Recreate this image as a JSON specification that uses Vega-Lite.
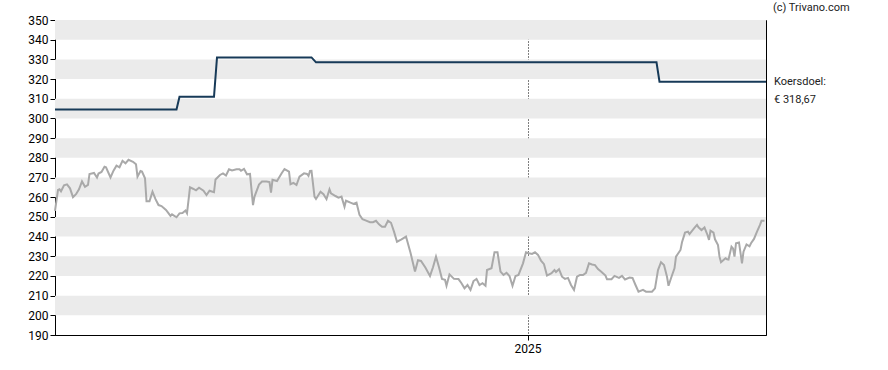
{
  "$schema": "https://vega.github.io/schema/vega-lite/v6.json",
  "width": 711,
  "height": 315,
  "autosize": {"type": "none"},
  "padding": {"left": 55, "top": 20, "right": 122, "bottom": 35},
  "background": "white",
  "config": {
    "view": {"stroke": "#000", "strokeWidth": 1},
    "font": "Roboto",
    "axis": {"labelFont": "Roboto", "labelFontSize": 12, "labelColor": "#000", "domainColor": "#000", "tickColor": "#000", "tickSize": 5},
    "axisY": {"grid": false, "labelPadding": 2},
    "axisX": {"grid": true, "gridColor": "#000", "gridDash": [1, 2], "gridWidth": 1, "gridOpacity": 1, "labelPadding": 3, "labelFlush": false}
  },
  "layer": [
    {
      "data": {"values": [
        {"lo": 340, "hi": 350}, {"lo": 320, "hi": 330}, {"lo": 300, "hi": 310}, {"lo": 280, "hi": 290},
        {"lo": 260, "hi": 270}, {"lo": 240, "hi": 250}, {"lo": 220, "hi": 230}, {"lo": 200, "hi": 210}
      ]},
      "mark": {"type": "rect", "fill": "#ebebeb"},
      "encoding": {
        "y": {"field": "lo", "type": "quantitative", "title": null, "scale": {"domain": [190, 350], "nice": false, "zero": false},
          "axis": {"values": [190,200,210,220,230,240,250,260,270,280,290,300,310,320,330,340,350]}},
        "y2": {"field": "hi"}
      }
    },
    {
      "data": {"values": [
        {"d": "2024-02-21", "v": 304.5}, {"d": "2024-05-12", "v": 304.5},
        {"d": "2024-05-14", "v": 311}, {"d": "2024-06-06", "v": 311},
        {"d": "2024-06-08", "v": 331}, {"d": "2024-08-10", "v": 331},
        {"d": "2024-08-13", "v": 328.5}, {"d": "2025-03-28", "v": 328.5},
        {"d": "2025-03-30", "v": 318.67}, {"d": "2025-06-09", "v": 318.67}
      ]},
      "mark": {"type": "line", "color": "#173a58", "strokeWidth": 2},
      "encoding": {
        "x": {"field": "d", "type": "temporal", "title": null,
          "scale": {"type": "utc", "domain": [{"year": 2024, "month": 2, "date": 21, "utc": true}, {"year": 2025, "month": 6, "date": 9, "utc": true}]},
          "axis": {"values": [{"year": 2025, "month": 1, "date": 1, "utc": true}], "labelExpr": "utcFormat(datum.value, '%Y')"}},
        "y": {"field": "v", "type": "quantitative", "title": null,
          "axis": {"values": [190,200,210,220,230,240,250,260,270,280,290,300,310,320,330,340,350]}}
      }
    },
    {
      "data": {"values": [
        {"d":"2024-02-21","v":253},{"d":"2024-02-23","v":263.7},{"d":"2024-02-24","v":264},{"d":"2024-02-25","v":263},
        {"d":"2024-02-27","v":266},{"d":"2024-02-29","v":266.5},{"d":"2024-03-02","v":264.5},{"d":"2024-03-04","v":260},
        {"d":"2024-03-06","v":261.5},{"d":"2024-03-08","v":264},{"d":"2024-03-10","v":268},{"d":"2024-03-12","v":265.3},
        {"d":"2024-03-14","v":266.2},{"d":"2024-03-15","v":271.8},{"d":"2024-03-18","v":272.3},{"d":"2024-03-20","v":270},
        {"d":"2024-03-21","v":272},{"d":"2024-03-23","v":272.8},{"d":"2024-03-25","v":275.5},{"d":"2024-03-26","v":275.2},
        {"d":"2024-03-29","v":270},{"d":"2024-03-31","v":273.5},{"d":"2024-04-02","v":276},{"d":"2024-04-04","v":275.2},
        {"d":"2024-04-06","v":278.5},{"d":"2024-04-08","v":277.2},{"d":"2024-04-10","v":279},{"d":"2024-04-13","v":278},
        {"d":"2024-04-15","v":276.7},{"d":"2024-04-16","v":270.4},{"d":"2024-04-18","v":273.3},{"d":"2024-04-19","v":273},
        {"d":"2024-04-21","v":269.6},{"d":"2024-04-22","v":258},{"d":"2024-04-24","v":258},{"d":"2024-04-26","v":262.8},
        {"d":"2024-04-28","v":259},{"d":"2024-04-30","v":256},{"d":"2024-05-02","v":255.5},{"d":"2024-05-05","v":253.5},
        {"d":"2024-05-08","v":250.5},{"d":"2024-05-09","v":251.3},{"d":"2024-05-12","v":249.8},{"d":"2024-05-14","v":251.8},
        {"d":"2024-05-16","v":252},{"d":"2024-05-18","v":253.2},{"d":"2024-05-19","v":251.8},{"d":"2024-05-21","v":265},
        {"d":"2024-05-23","v":264.3},{"d":"2024-05-25","v":263.5},{"d":"2024-05-27","v":264.8},{"d":"2024-05-30","v":263.3},
        {"d":"2024-06-01","v":261.1},{"d":"2024-06-03","v":263.3},{"d":"2024-06-06","v":262.5},{"d":"2024-06-07","v":269},
        {"d":"2024-06-10","v":271.3},{"d":"2024-06-12","v":272.1},{"d":"2024-06-14","v":271},{"d":"2024-06-16","v":274.2},
        {"d":"2024-06-18","v":273.6},{"d":"2024-06-21","v":274.2},{"d":"2024-06-23","v":274.2},{"d":"2024-06-24","v":273.4},
        {"d":"2024-06-26","v":274.4},{"d":"2024-06-28","v":271.6},{"d":"2024-06-30","v":271.8},{"d":"2024-07-02","v":256},
        {"d":"2024-07-03","v":260.3},{"d":"2024-07-06","v":266.4},{"d":"2024-07-08","v":268},{"d":"2024-07-11","v":268},
        {"d":"2024-07-13","v":267.7},{"d":"2024-07-14","v":262.3},{"d":"2024-07-15","v":268.8},{"d":"2024-07-18","v":268.2},
        {"d":"2024-07-21","v":272},{"d":"2024-07-23","v":274.3},{"d":"2024-07-26","v":273},{"d":"2024-07-27","v":266.6},
        {"d":"2024-07-29","v":267.3},{"d":"2024-07-31","v":266.2},{"d":"2024-08-02","v":270.4},{"d":"2024-08-05","v":272.1},
        {"d":"2024-08-07","v":271.8},{"d":"2024-08-08","v":270.8},{"d":"2024-08-09","v":273.3},{"d":"2024-08-10","v":273.4},
        {"d":"2024-08-12","v":260.3},{"d":"2024-08-13","v":259.1},{"d":"2024-08-16","v":262.8},{"d":"2024-08-18","v":261.5},
        {"d":"2024-08-20","v":259},{"d":"2024-08-22","v":264},{"d":"2024-08-23","v":262},{"d":"2024-08-26","v":260.6},
        {"d":"2024-08-28","v":259.8},{"d":"2024-08-30","v":260.3},{"d":"2024-09-01","v":255.2},{"d":"2024-09-02","v":258.2},
        {"d":"2024-09-05","v":257.2},{"d":"2024-09-07","v":256.6},{"d":"2024-09-09","v":257.2},{"d":"2024-09-11","v":251},
        {"d":"2024-09-13","v":248.8},{"d":"2024-09-15","v":248.2},{"d":"2024-09-18","v":247.3},{"d":"2024-09-20","v":247.3},
        {"d":"2024-09-22","v":248},{"d":"2024-09-24","v":246.2},{"d":"2024-09-26","v":245},{"d":"2024-09-28","v":245},
        {"d":"2024-09-30","v":248},{"d":"2024-10-02","v":247},{"d":"2024-10-04","v":242.5},{"d":"2024-10-06","v":237.4},
        {"d":"2024-10-09","v":238.6},{"d":"2024-10-12","v":240},{"d":"2024-10-15","v":231.8},{"d":"2024-10-18","v":222.2},
        {"d":"2024-10-20","v":228},{"d":"2024-10-22","v":227.6},{"d":"2024-10-25","v":224.2},{"d":"2024-10-28","v":220},
        {"d":"2024-10-30","v":224.4},{"d":"2024-11-01","v":229.8},{"d":"2024-11-03","v":224.4},{"d":"2024-11-05","v":218.5},
        {"d":"2024-11-07","v":218},{"d":"2024-11-08","v":215},{"d":"2024-11-10","v":220.8},{"d":"2024-11-13","v":218.5},
        {"d":"2024-11-16","v":218.4},{"d":"2024-11-18","v":216.3},{"d":"2024-11-20","v":213.7},{"d":"2024-11-22","v":215.4},
        {"d":"2024-11-24","v":212.9},{"d":"2024-11-26","v":217.4},{"d":"2024-11-28","v":218.5},{"d":"2024-11-30","v":215.4},
        {"d":"2024-12-02","v":216.3},{"d":"2024-12-04","v":215},{"d":"2024-12-05","v":223},{"d":"2024-12-08","v":223.9},
        {"d":"2024-12-10","v":232},{"d":"2024-12-12","v":232},{"d":"2024-12-14","v":222.2},{"d":"2024-12-16","v":220.5},
        {"d":"2024-12-18","v":221.6},{"d":"2024-12-20","v":220},{"d":"2024-12-22","v":215},{"d":"2024-12-24","v":220},
        {"d":"2024-12-26","v":220.5},{"d":"2024-12-29","v":226.4},{"d":"2024-12-31","v":232},{"d":"2025-01-02","v":231.5},
        {"d":"2025-01-04","v":231.2},{"d":"2025-01-06","v":232},{"d":"2025-01-08","v":230.7},{"d":"2025-01-10","v":227.8},
        {"d":"2025-01-12","v":226},{"d":"2025-01-14","v":220.2},{"d":"2025-01-17","v":221.4},{"d":"2025-01-19","v":223},
        {"d":"2025-01-20","v":222},{"d":"2025-01-22","v":223.4},{"d":"2025-01-24","v":219.6},{"d":"2025-01-26","v":218.5},
        {"d":"2025-01-28","v":219},{"d":"2025-01-30","v":215.4},{"d":"2025-02-01","v":212.9},{"d":"2025-02-03","v":219.6},
        {"d":"2025-02-05","v":220.5},{"d":"2025-02-07","v":220.5},{"d":"2025-02-09","v":221.6},{"d":"2025-02-11","v":226.4},
        {"d":"2025-02-13","v":225.8},{"d":"2025-02-15","v":225.5},{"d":"2025-02-17","v":223.5},{"d":"2025-02-19","v":222.3},
        {"d":"2025-02-22","v":220.2},{"d":"2025-02-23","v":218.3},{"d":"2025-02-26","v":218.3},{"d":"2025-02-28","v":220},
        {"d":"2025-03-03","v":219},{"d":"2025-03-05","v":220},{"d":"2025-03-07","v":218.2},{"d":"2025-03-10","v":219.2},
        {"d":"2025-03-12","v":219},{"d":"2025-03-14","v":215.4},{"d":"2025-03-16","v":212},{"d":"2025-03-19","v":212.9},
        {"d":"2025-03-21","v":212},{"d":"2025-03-25","v":212},{"d":"2025-03-27","v":213.7},{"d":"2025-03-29","v":223},
        {"d":"2025-03-31","v":227},{"d":"2025-04-02","v":225.6},{"d":"2025-04-04","v":219.6},{"d":"2025-04-05","v":215},
        {"d":"2025-04-07","v":219.6},{"d":"2025-04-09","v":223.9},{"d":"2025-04-10","v":229.8},{"d":"2025-04-13","v":233.2},
        {"d":"2025-04-14","v":237.1},{"d":"2025-04-16","v":242},{"d":"2025-04-18","v":242.5},{"d":"2025-04-19","v":241.3},
        {"d":"2025-04-22","v":244.2},{"d":"2025-04-24","v":245.9},{"d":"2025-04-25","v":244.7},{"d":"2025-04-27","v":243.3},
        {"d":"2025-04-29","v":244.6},{"d":"2025-05-01","v":240.8},{"d":"2025-05-02","v":238.3},{"d":"2025-05-03","v":243},
        {"d":"2025-05-05","v":242},{"d":"2025-05-06","v":238.6},{"d":"2025-05-08","v":235.7},{"d":"2025-05-09","v":229.8},
        {"d":"2025-05-10","v":227},{"d":"2025-05-13","v":229},{"d":"2025-05-14","v":228.5},{"d":"2025-05-15","v":228.3},
        {"d":"2025-05-17","v":234.9},{"d":"2025-05-18","v":234},{"d":"2025-05-19","v":229.8},{"d":"2025-05-20","v":236.6},
        {"d":"2025-05-22","v":237},{"d":"2025-05-24","v":226.4},{"d":"2025-05-25","v":232.3},{"d":"2025-05-27","v":236},
        {"d":"2025-05-29","v":235},{"d":"2025-05-30","v":236.6},{"d":"2025-06-01","v":238.8},{"d":"2025-06-03","v":242.5},
        {"d":"2025-06-05","v":245.9},{"d":"2025-06-06","v":248},{"d":"2025-06-08","v":248}
      ]},
      "mark": {"type": "line", "color": "#a9a9a9", "strokeWidth": 2},
      "encoding": {
        "x": {"field": "d", "type": "temporal", "title": null,
          "axis": {"values": [{"year": 2025, "month": 1, "date": 1, "utc": true}], "labelExpr": "utcFormat(datum.value, '%Y')"}},
        "y": {"field": "v", "type": "quantitative", "title": null,
          "axis": {"values": [190,200,210,220,230,240,250,260,270,280,290,300,310,320,330,340,350]}}
      }
    },
    {
      "data": {"values": [{"d": "2025-06-09", "v": 318.67, "t": "Koersdoel:\n€ 318,67"}]},
      "mark": {"type": "text", "align": "left", "baseline": "middle", "dx": 8, "fontSize": 11, "font": "Roboto", "color": "#222", "lineBreak": "\n", "lineHeight": 18},
      "encoding": {
        "x": {"field": "d", "type": "temporal", "title": null,
          "axis": {"values": [{"year": 2025, "month": 1, "date": 1, "utc": true}], "labelExpr": "utcFormat(datum.value, '%Y')"}},
        "y": {"field": "v", "type": "quantitative", "title": null,
          "axis": {"values": [190,200,210,220,230,240,250,260,270,280,290,300,310,320,330,340,350]}},
        "text": {"field": "t"}
      }
    },
    {
      "data": {"values": [{"d": "2025-06-09", "v": 350, "t": "(c) Trivano.com"}]},
      "mark": {"type": "text", "align": "left", "baseline": "middle", "dx": 7, "dy": -12, "fontSize": 11, "font": "Roboto", "color": "#222"},
      "encoding": {
        "x": {"field": "d", "type": "temporal", "title": null,
          "axis": {"values": [{"year": 2025, "month": 1, "date": 1, "utc": true}], "labelExpr": "utcFormat(datum.value, '%Y')"}},
        "y": {"field": "v", "type": "quantitative", "title": null,
          "axis": {"values": [190,200,210,220,230,240,250,260,270,280,290,300,310,320,330,340,350]}},
        "text": {"field": "t"}
      }
    }
  ]
}
